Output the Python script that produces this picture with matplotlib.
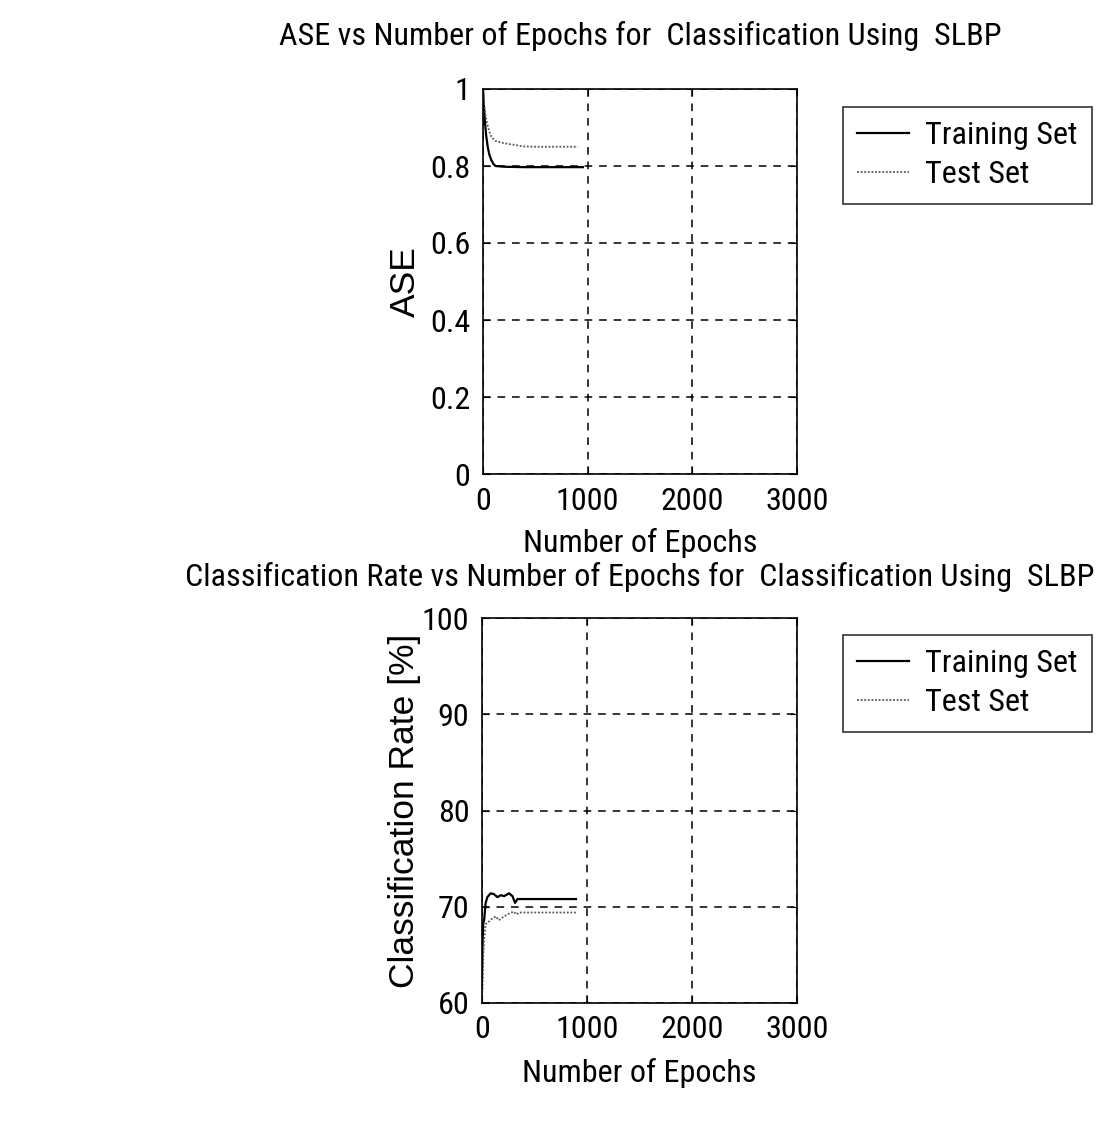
import matplotlib
matplotlib.use("Agg")
import matplotlib.pyplot as plt
from matplotlib import font_manager as fm

# ---- data ----
ase_train_epochs = [0, 5, 10, 20, 30, 45, 60, 80, 100, 120, 200, 400, 600, 800, 955]
ase_train_vals = [1.0, 0.97, 0.95, 0.91, 0.88, 0.85, 0.83, 0.815, 0.805, 0.8, 0.798, 0.797, 0.797, 0.797, 0.797]
ase_test_epochs = [0, 10, 25, 40, 60, 80, 120, 190, 250, 300, 380, 500, 700, 905]
ase_test_vals = [1.0, 0.96, 0.93, 0.91, 0.89, 0.875, 0.865, 0.86, 0.857, 0.855, 0.851, 0.85, 0.85, 0.85]

cr_train_epochs = [0, 3, 6, 12, 20, 35, 51, 83, 115, 147, 179, 210, 258, 290, 315, 338, 600, 895]
cr_train_vals = [62.5, 64.5, 66.5, 68.3, 68.6, 70.4, 71.0, 71.4, 71.3, 71.0, 71.2, 71.1, 71.4, 71.1, 70.4, 70.8, 70.8, 70.8]
cr_test_epochs = [0, 5, 12, 20, 35, 60, 90, 130, 160, 210, 260, 300, 330, 350, 600, 900]
cr_test_vals = [60.3, 61.5, 65.0, 66.5, 68.2, 68.4, 68.7, 69.0, 68.6, 69.0, 69.3, 69.5, 69.2, 69.4, 69.4, 69.4]

x_ticks = [0, 1000, 2000, 3000]
ase_ticks = [0, 0.2, 0.4, 0.6, 0.8, 1]
ase_ticklabels = ["0", "0.2", "0.4", "0.6", "0.8", "1"]
cr_ticks = [60, 70, 80, 90, 100]
legend_labels = ["Training Set", "Test Set"]

# ---- font: prefer a narrow sans (Helvetica Narrow look) ----
def pick_font():
    prefs = ['Liberation Sans Narrow', 'Nimbus Sans Narrow', 'Arial Narrow',
             'Roboto Condensed', 'Open Sans Condensed', 'DejaVu Sans Condensed']
    good = [f for f in fm.fontManager.ttflist
            if f.style == 'normal' and f.weight in (400, 'normal', 'regular')]
    for p in prefs:
        for f in good:
            if f.name == p:
                return f.fname
    for f in good:
        if f.stretch in ('condensed', 'semi-condensed') or 'Narrow' in f.name or 'Condensed' in f.name:
            return f.fname
    return fm.findfont('Liberation Sans')

FONT_PATH = pick_font()

fig = plt.figure(figsize=(11.01, 11.21), dpi=100)
W, H = 1101, 1121

# size the narrow font so "Number of Epochs" is about as wide as in the reference
probe = fig.text(0, 0, "Number of Epochs", fontproperties=fm.FontProperties(fname=FONT_PATH, size=24))
fig.canvas.draw()
wpx = probe.get_window_extent().width
probe.remove()
FS = 24 * 235.0 / wpx
FP = fm.FontProperties(fname=FONT_PATH, size=FS)
FP_TICK = fm.FontProperties(fname=FONT_PATH, size=FS)
FP_Y = fm.FontProperties(family=['Liberation Sans', 'DejaVu Sans'], size=25.5)

def ax_at(l, t, r, b):
    return fig.add_axes([l / W, 1 - b / H, (r - l) / W, (b - t) / H])

ax1 = ax_at(483, 89, 797, 474)
ax2 = ax_at(482, 618, 797, 1003)

grid_kw = dict(color='black', linestyle=(0, (5, 4.5)), linewidth=1.1)

def style(ax):
    ax.set_xlim(0, 3000)
    ax.set_xticks(x_ticks)
    ax.tick_params(direction='in', length=5, top=True, right=True, pad=9)
    ax.grid(True, **grid_kw)
    for s in ax.spines.values():
        s.set_linewidth(1.2)

def fix_ticks(ax):
    for lab in ax.get_xticklabels() + ax.get_yticklabels():
        lab.set_fontproperties(FP_TICK)

ax1.plot(ase_train_epochs, ase_train_vals, color='black', linewidth=1.6, label=legend_labels[0])
ax1.plot(ase_test_epochs, ase_test_vals, color='#555555', linestyle=(0, (1, 1)), linewidth=1.3, label=legend_labels[1])
style(ax1)
ax1.set_ylim(0, 1)
ax1.set_yticks(ase_ticks)
ax1.set_yticklabels(ase_ticklabels)
fix_ticks(ax1)
ax1.set_xlabel("Number of Epochs", fontproperties=FP, labelpad=9)
ax1.set_ylabel("ASE", fontproperties=FP_Y)
ax1.yaxis.set_label_coords(-0.195, 0.5)
ax1.set_title("ASE vs Number of Epochs for  Classification Using  SLBP", fontproperties=FP, pad=32)

ax2.plot(cr_train_epochs, cr_train_vals, color='black', linewidth=1.6, label=legend_labels[0])
ax2.plot(cr_test_epochs, cr_test_vals, color='#555555', linestyle=(0, (1, 1)), linewidth=1.3, label=legend_labels[1])
style(ax2)
ax2.set_ylim(60, 100)
ax2.set_yticks(cr_ticks)
fix_ticks(ax2)
ax2.set_xlabel("Number of Epochs", fontproperties=FP, labelpad=10)
ax2.set_ylabel("Classification Rate [%]", fontproperties=FP_Y)
ax2.yaxis.set_label_coords(-0.195, 0.5)
ax2.set_title("Classification Rate vs Number of Epochs for  Classification Using  SLBP", fontproperties=FP, pad=23)

for ax, top in ((ax1, 107), (ax2, 635)):
    leg = ax.legend(loc='upper left', bbox_to_anchor=(843 / W, 1 - top / H),
                    bbox_transform=fig.transFigure, prop=FP, frameon=True,
                    fancybox=False, edgecolor='black', handlelength=1.6,
                    handletextpad=0.5, borderpad=0.45, labelspacing=0.3,
                    borderaxespad=0)
    leg.get_frame().set_linewidth(1.2)

fig.savefig("out.png", dpi=100)
